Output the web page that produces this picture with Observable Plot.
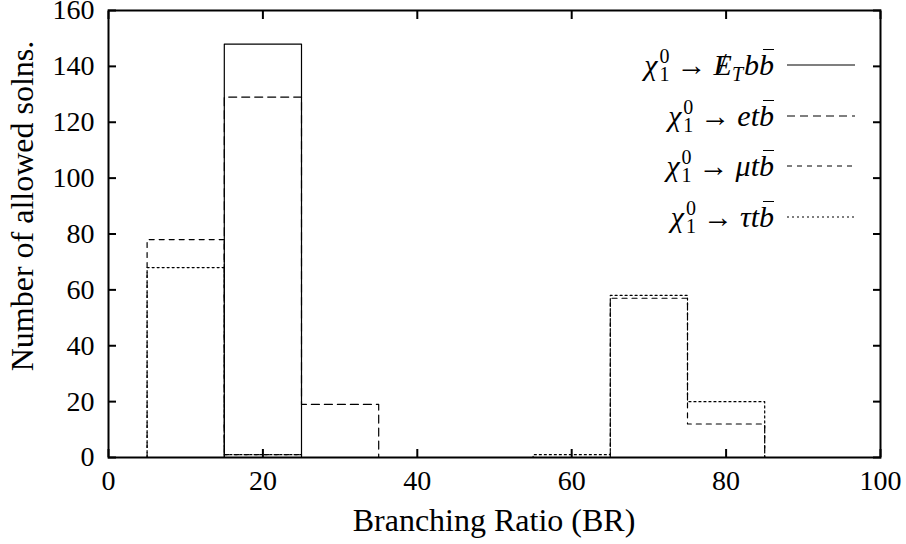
<!DOCTYPE html>
<html>
<head>
<meta charset="utf-8">
<script src="https://cdn.jsdelivr.net/npm/d3@7"></script>
<script src="https://cdn.jsdelivr.net/npm/@observablehq/plot@0.6"></script>
<style>
  html, body { margin: 0; padding: 0; background: #fff; }
  #wrap { position: relative; width: 906px; height: 544px; color: #000; }
  #legend .row { position: absolute; right: 51px; height: 50px; display: flex; align-items: center; justify-content: flex-end; white-space: nowrap; }
  #legend .math { font-size: 30px; color: #000; margin-right: 13px; line-height: 1; }
  #legend .it { font-style: italic; }
  #legend .ss { display: inline-flex; flex-direction: column; font-size: 20px; line-height: 18px; vertical-align: 12px; margin-left: 2px; font-style: normal; }
  #legend .ar { margin: 0 7px; }
  #legend .ob { position: relative; font-style: italic; }
  #legend .ob::before { content: ""; position: absolute; left: 4px; right: 0px; top: 1px; border-top: 1.3px solid #000; }
  #legend .met { position: relative; font-style: italic; }
  #legend .met .sl { position: absolute; left: 5px; top: 0px; font-style: normal; }
  #legend .sub { font-size: 20px; font-style: italic; vertical-align: -6px; margin-right: 1px; }
  .axtitle { position: absolute; font-size: 32px; white-space: nowrap; line-height: 1; }
</style>
</head>
<body>
<div id="wrap">
  <div id="chart"></div>
  <div id="legend"></div>
</div>
<script>
// ---- data ----
const binCenters = [10, 20, 30, 40, 50, 60, 70, 80];
const binWidth = 10;
const metbb = [0, 148, 0, 0, 0, 0, 0, 0];
const etb   = [0, 129, 19, 0, 0, 0, 0, 0];
const mutb  = [78, 1, 0, 0, 0, 0, 57, 12];
const tautb = [68, 1, 0, 0, 0, 1, 58, 20];
const xTicks = [0, 20, 40, 60, 80, 100];
const yTicks = [0, 20, 40, 60, 80, 100, 120, 140, 160];
const xLabel = "Branching Ratio (BR)";
const yLabel = "Number of allowed solns.";

const seriesDefs = [
  {key: "met", values: metbb, dash: null},
  {key: "e",   values: etb,   dash: "8,5"},
  {key: "mu",  values: mutb,  dash: "5,5"},
  {key: "tau", values: tautb, dash: "2,3"}
];

// pick an installed serif font if there is one (measured with canvas)
function hasFont(name) {
  const c = document.createElement("canvas").getContext("2d");
  const s = "mmmmmmmmmmlliWQ@#0123456789";
  const res = [];
  for (const base of ["monospace", "sans-serif"]) {
    c.font = `40px ${base}`;
    const w0 = c.measureText(s).width;
    c.font = `40px "${name}", ${base}`;
    const w1 = c.measureText(s).width;
    res.push(Math.abs(w1 - w0) > 0.5);
  }
  return res[0] && res[1];
}
const serifCandidates = ["Liberation Serif", "DejaVu Serif", "Noto Serif", "Tinos", "FreeSerif", "Nimbus Roman", "Times New Roman", "Times", "Georgia"];
const found = serifCandidates.find(hasFont);
const FONT = (found ? `"${found}", ` : "") + "serif";
document.getElementById("wrap").style.fontFamily = FONT;

// histogram outline (step) points from the bins
function outline(values) {
  const pts = [];
  pts.push({x: binCenters[0] - binWidth / 2, y: 0});
  values.forEach((v, i) => pts.push({x: binCenters[i] - binWidth / 2, y: v}));
  pts.push({x: binCenters[binCenters.length - 1] + binWidth / 2, y: 0});
  return pts;
}

const lineMarks = seriesDefs.map(s => Plot.line(outline(s.values), {
  x: "x", y: "y", curve: "step-after", stroke: "#000", strokeWidth: 1.2,
  strokeDasharray: s.dash
}));

const chart = Plot.plot({
  width: 906,
  height: 544,
  marginLeft: 108,
  marginRight: 26,
  marginTop: 10,
  marginBottom: 87,
  style: {fontFamily: FONT, fontSize: "28px", color: "#000", background: "#fff"},
  x: {domain: [0, 100]},
  y: {domain: [0, 160]},
  marks: [
    ...lineMarks,
    Plot.axisX(xTicks, {anchor: "bottom", tickSize: -8, tickPadding: 21, label: null, strokeWidth: 2, fill: "#000"}),
    Plot.axisX(xTicks, {anchor: "top", tickSize: -8, tickFormat: () => "", label: null, strokeWidth: 2}),
    Plot.axisY(yTicks, {anchor: "left", tickSize: -8, tickPadding: 22, label: null, strokeWidth: 2, fill: "#000"}),
    Plot.axisY(yTicks, {anchor: "right", tickSize: -8, tickFormat: () => "", label: null, strokeWidth: 2}),
    Plot.frame({stroke: "#000", strokeWidth: 2})
  ]
});
document.getElementById("chart").appendChild(chart);

// ---- axis titles (HTML overlay) ----
const wrap = document.getElementById("wrap");
const xt = document.createElement("div");
xt.className = "axtitle";
xt.textContent = xLabel;
xt.style.left = "494px"; xt.style.top = "504px"; xt.style.transform = "translateX(-50%)";
wrap.appendChild(xt);
const yt = document.createElement("div");
yt.className = "axtitle";
yt.textContent = yLabel;
yt.style.left = "22px"; yt.style.top = "206px";
yt.style.transform = "translate(-50%, -50%) rotate(-90deg)";
wrap.appendChild(yt);

// ---- legend (HTML overlay) ----
const chi = '<span class="it">χ</span><span class="ss"><span>0</span><span>1</span></span><span class="ar">→</span>';
const legendLabels = [
  chi + '<span class="met">E<span class="sl">/</span></span><span class="sub">T</span><span class="it">b</span><span class="ob">b</span>',
  chi + '<span class="it">et</span><span class="ob">b</span>',
  chi + '<span class="it">μt</span><span class="ob">b</span>',
  chi + '<span class="it">τt</span><span class="ob">b</span>'
];
const legendTop = 40, legendStep = 50.7;
const legend = document.getElementById("legend");
seriesDefs.forEach((s, i) => {
  const row = document.createElement("div");
  row.className = "row";
  row.style.top = (legendTop + i * legendStep) + "px";
  row.innerHTML = `<span class="math">${legendLabels[i]}</span>` +
    `<svg width="68" height="6" style="display:block"><line x1="0" x2="68" y1="3" y2="3" stroke="#000" stroke-width="1.2"${s.dash ? ` stroke-dasharray="${s.dash}"` : ""}/></svg>`;
  legend.appendChild(row);
});
</script>
</body>
</html>
